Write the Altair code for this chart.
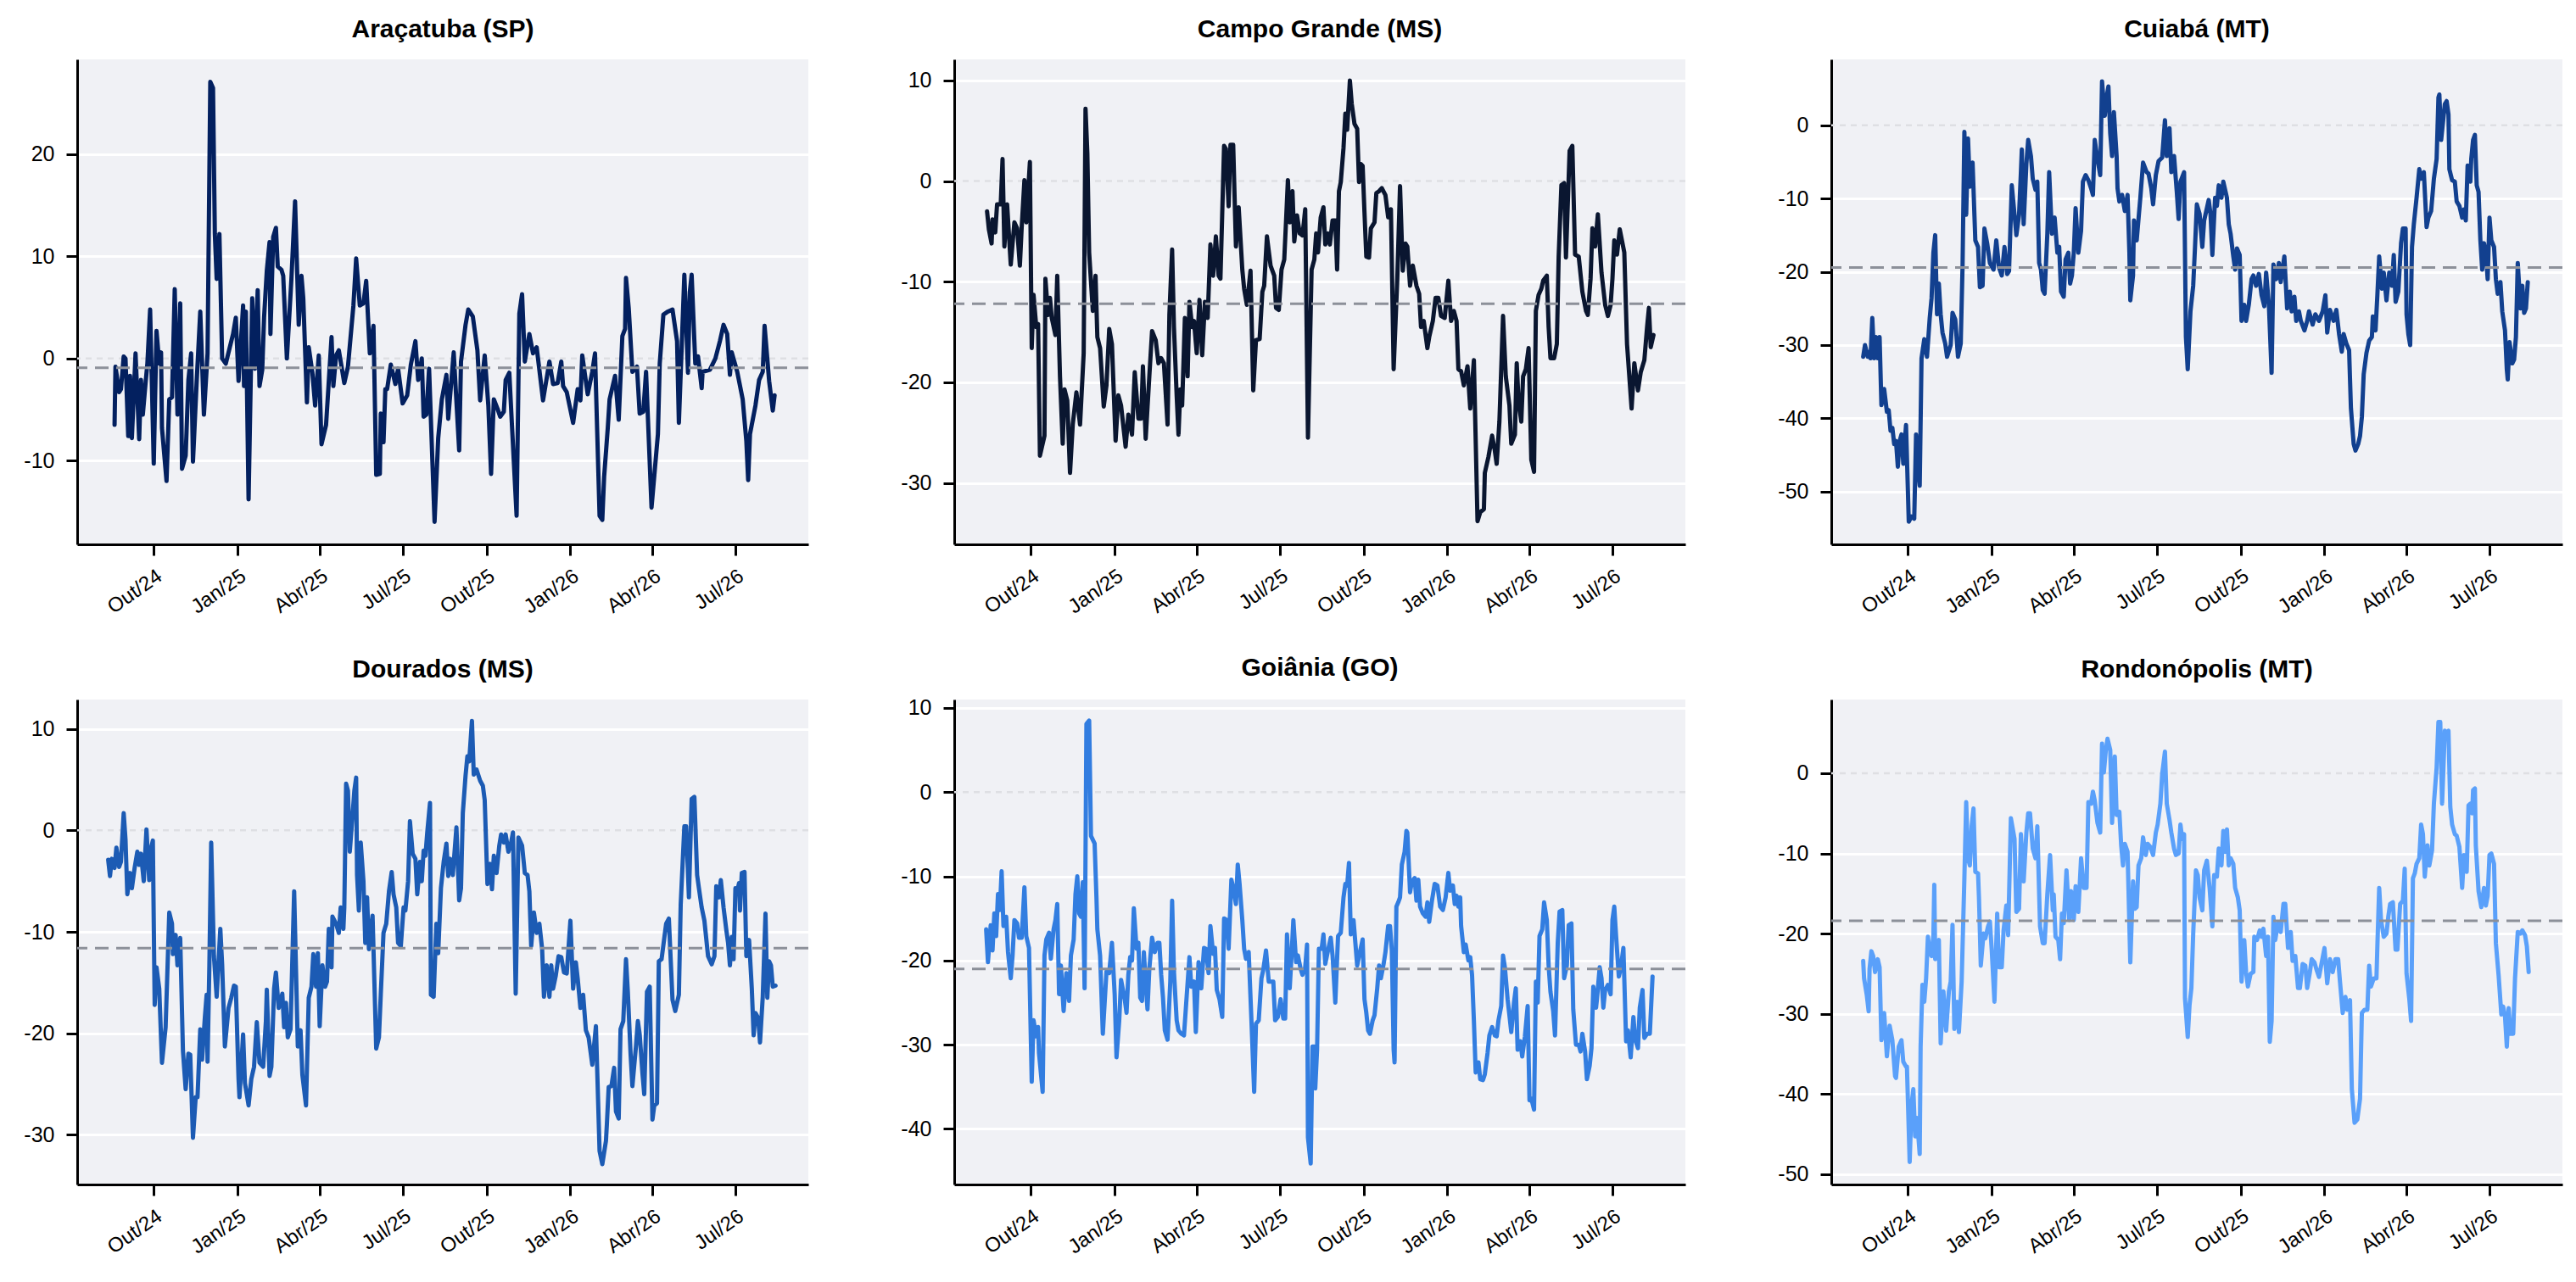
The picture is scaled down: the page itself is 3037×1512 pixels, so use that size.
import altair as alt
import pandas as pd

# ---------------- data ----------------
# each entry: (days since 2024-10-01, value)
ARACATUBA = [(-43,-6.5),(-42,-0.8),(-38,-3.3),(-36,-3.0),(-33,0.2),(-31,0.0),(-28,-7.6),(-26,-1.7),(-24,-7.8),(-20,0.5),(-16,-7.9),(-14,-2.1),(-12,-5.5),(-9,-2.4),(-7,-0.5),(-4,4.8),(0,-10.3),(3,2.7),(6,-0.5),(8,0.6),(9,-6.8),(14,-12.0),(17,-4.0),(20,-3.8),(23,6.8),(26,-5.5),(29,5.4),(31,-10.8),(35,-9.5),(38,-2.1),(41,0.5),(43,-10.1),(47,-2.4),(51,4.6),(55,-5.5),(59,0.5),(62,27.1),(65,26.5),(67,12.2),(69,7.8),(72,12.2),(75,0.0),(79,-0.5),(87,2.4),(90,4.0),(93,-2.2),(98,5.2),(99,-2.7),(101,4.6),(104,-13.8),(108,5.9),(111,-1.0),(114,6.7),(116,-2.7),(119,-1.1),(121,4.0),(124,8.6),(127,11.4),(128,2.4),(131,11.9),(134,12.8),(136,9.0),(140,8.7),(142,8.1),(146,0.0),(151,7.8),(155,15.4),(159,3.3),(162,8.1),(164,5.9),(168,-4.3),(170,1.1),(174,-1.4),(177,-4.6),(181,0.3),(184,-8.4),(189,-6.5),(195,2.1),(197,-2.7),(200,0.3),(203,0.8),(209,-2.4),(213,-0.8),(219,5.2),(222,9.8),(226,5.2),(230,5.4),(233,7.6),(237,0.5),(241,3.2),(244,-11.4),(248,-11.3),(249,-5.4),(252,-8.2),(254,-3.0),(256,-3.0),(260,-0.6),(265,-2.5),(268,-1.0),(273,-4.4),(278,-3.6),(282,-0.6),(287,1.7),(290,-2.1),(294,0.0),(296,-5.7),(299,-5.5),(302,-1.0),(308,-16.0),(312,-7.8),(316,-4.0),(321,-1.6),(323,-5.9),(329,0.6),(335,-9.0),(337,-0.3),(342,3.3),(345,4.8),(350,4.1),(355,0.8),(358,-4.1),(363,0.3),(367,-4.6),(370,-11.3),(373,-4.0),(377,-4.9),(380,-5.7),(384,-5.2),(386,-2.1),(390,-1.4),(393,-6.7),(398,-15.4),(401,4.4),(404,6.3),(407,-0.3),(412,2.4),(416,0.5),(420,1.1),(427,-4.1),(434,-0.3),(438,-2.5),(443,-2.4),(447,-0.3),(449,-2.7),(453,-3.3),(460,-6.3),(465,-3.0),(468,-4.1),(470,0.3),(476,-3.5),(481,-1.3),(484,0.5),(489,-15.4),(492,-15.8),(494,-11.6),(498,-6.8),(500,-4.0),(506,-1.7),(510,-6.0),(514,2.2),(517,2.9),(518,7.9),(521,4.9),(525,-1.3),(530,-0.8),(533,-5.4),(537,-5.2),(540,-1.3),(546,-14.6),(553,-7.4),(555,-0.5),(559,4.3),(564,4.6),(569,4.8),(574,1.7),(576,-6.3),(582,8.2),(586,-1.4),(588,6.5),(590,8.2),(594,-0.5),(597,0.2),(601,-2.9),(602,-1.3),(610,-1.1),(616,0.0),(621,1.7),(625,3.3),(629,2.4),(632,-1.6),(634,0.6),(640,-1.3),(646,-4.0),(650,-8.1),(652,-11.9),(654,-7.4),(660,-4.6),(664,-2.1),(668,-1.3),(670,3.2),(675,-2.2),(679,-5.1),(681,-3.6)]

CAMPO_GRANDE = [(-48,-3.0),(-46,-4.8),(-43,-6.2),(-42,-3.8),(-39,-5.1),(-37,-2.3),(-33,-2.3),(-31,2.2),(-29,-6.5),(-26,-2.3),(-22,-8.3),(-18,-4.1),(-15,-4.7),(-12,-8.4),(-10,-4.6),(-7,0.1),(-5,-4.1),(-1,1.9),(1,-16.6),(3,-11.3),(6,-14.5),(8,-14.2),(10,-27.3),(15,-25.3),(16,-9.7),(19,-13.3),(21,-11.6),(23,-13.6),(27,-15.3),(29,-9.4),(32,-19.4),(35,-26.1),(37,-20.7),(40,-21.8),(43,-29.0),(46,-24.2),(50,-21.0),(54,-24.2),(58,-17.1),(60,7.2),(62,2.8),(64,-7.1),(68,-12.9),(71,-9.4),(73,-15.5),(76,-16.6),(80,-22.4),(83,-20.3),(86,-14.7),(89,-16.2),(93,-25.8),(96,-21.3),(99,-22.3),(104,-26.4),(107,-23.2),(111,-25.2),(114,-19.0),(118,-23.6),(121,-23.6),(123,-18.4),(126,-25.6),(130,-19.4),(133,-14.9),(137,-15.8),(140,-18.1),(143,-17.6),(146,-18.1),(150,-24.2),(152,-13.3),(155,-6.8),(157,-14.5),(160,-21.3),(162,-25.2),(164,-20.7),(166,-22.3),(169,-13.6),(172,-19.4),(174,-12.0),(177,-14.5),(179,-13.9),(182,-17.1),(185,-11.8),(188,-17.3),(191,-12.0),(194,-13.6),(197,-6.3),(200,-9.4),(203,-5.5),(206,-9.4),(208,-9.7),(212,3.5),(214,3.2),(217,-2.5),(219,3.6),(222,3.6),(225,-6.5),(228,-2.6),(232,-8.8),(234,-10.7),(237,-12.3),(241,-8.9),(244,-20.8),(247,-15.8),(251,-15.7),(254,-11.0),(256,-10.4),(259,-5.5),(263,-8.4),(267,-9.4),(269,-12.6),(272,-12.8),(275,-8.8),(278,-7.8),(280,-3.9),(282,0.1),(284,-4.1),(287,-1.0),(289,-6.0),(292,-3.4),(295,-5.2),(298,-5.4),(301,-2.8),(304,-25.5),(308,-8.8),(311,-7.8),(313,-5.2),(315,-7.1),(318,-3.6),(321,-2.6),(323,-6.3),(326,-5.2),(328,-6.3),(331,-3.9),(334,-3.9),(336,-8.8),(338,-1.0),(340,-0.1),(343,3.3),(345,6.7),(347,5.1),(350,10.0),(352,7.7),(355,5.7),(358,5.2),(360,-0.1),(362,1.7),(364,1.5),(366,-3.1),(368,-7.5),(371,-7.6),(373,-4.7),(377,-4.1),(379,-1.2),(382,-1.0),(385,-0.7),(389,-1.4),(392,-3.6),(395,-2.8),(398,-18.7),(402,-9.7),(405,-0.5),(408,-8.9),(411,-6.2),(413,-6.5),(416,-10.4),(419,-8.4),(423,-10.4),(426,-11.2),(428,-14.5),(431,-13.9),(435,-16.6),(437,-15.5),(441,-13.9),(444,-11.6),(447,-11.6),(450,-13.4),(454,-13.6),(458,-9.9),(461,-13.9),(464,-12.9),(467,-13.9),(469,-18.7),(472,-18.9),(475,-20.3),(479,-18.4),(482,-22.6),(486,-17.8),(490,-33.8),(493,-32.9),(497,-32.6),(498,-29.0),(502,-27.4),(506,-25.3),(509,-26.8),(511,-28.1),(514,-23.9),(518,-13.4),(521,-19.4),(525,-22.3),(527,-26.1),(531,-25.2),(533,-18.1),(535,-21.9),(538,-23.9),(540,-19.4),(543,-18.7),(546,-16.6),(549,-27.7),(552,-28.9),(554,-12.9),(557,-11.3),(560,-10.7),(562,-9.9),(566,-9.4),(568,-14.5),(570,-17.6),(574,-17.6),(577,-16.2),(579,-7.5),(582,-0.4),(585,-0.2),(587,-7.6),(591,3.0),(594,3.5),(597,-7.3),(601,-7.5),(605,-11.0),(609,-12.9),(611,-13.3),(614,-9.7),(616,-4.7),(619,-6.5),(622,-3.3),(626,-9.1),(630,-12.3),(633,-13.4),(636,-12.3),(638,-9.7),(640,-5.9),(643,-7.3),(646,-4.8),(651,-7.1),(654,-16.2),(659,-22.6),(662,-18.1),(666,-20.8),(669,-19.0),(673,-17.8),(676,-14.5),(678,-12.6),(680,-16.5),(683,-15.3)]

CUIABA = [(-49,-31.6),(-47,-30.0),(-44,-31.6),(-42,-30.9),(-41,-31.8),(-39,-26.3),(-37,-31.8),(-35,-28.9),(-33,-31.8),(-31,-28.9),(-29,-38.2),(-26,-36.0),(-23,-39.1),(-21,-38.9),(-19,-41.7),(-17,-41.3),(-15,-43.5),(-13,-43.1),(-11,-46.6),(-9,-43.1),(-7,-42.2),(-5,-46.2),(-2,-40.9),(1,-54.1),(4,-53.4),(7,-53.7),(9,-42.2),(11,-46.6),(13,-49.2),(15,-31.8),(18,-29.2),(21,-31.6),(24,-26.3),(26,-23.6),(28,-17.4),(30,-15.0),(32,-25.8),(34,-21.6),(36,-25.8),(38,-28.3),(41,-29.8),(43,-31.6),(47,-30.0),(49,-25.6),(52,-26.5),(55,-31.6),(58,-29.8),(60,-19.2),(62,-0.9),(64,-12.2),(66,-1.8),(68,-8.4),(71,-5.1),(72,-8.6),(74,-15.7),(77,-16.6),(79,-22.1),(82,-21.9),(84,-14.1),(87,-16.1),(90,-18.8),(94,-19.7),(97,-15.7),(100,-19.4),(103,-20.5),(106,-16.6),(109,-20.3),(111,-19.9),(114,-8.2),(117,-12.2),(119,-15.0),(122,-12.2),(124,-6.4),(125,-3.3),(127,-13.5),(130,-5.3),(132,-2.0),(135,-4.2),(137,-7.3),(140,-8.8),(142,-7.7),(144,-18.8),(146,-19.7),(148,-22.5),(150,-23.0),(153,-14.8),(155,-6.4),(158,-14.8),(161,-12.6),(164,-17.4),(166,-16.6),(168,-22.7),(171,-23.4),(173,-18.3),(176,-17.4),(178,-21.6),(180,-20.5),(182,-17.4),(184,-11.3),(187,-17.4),(190,-14.4),(192,-7.7),(195,-6.8),(198,-7.5),(201,-8.6),(203,-9.5),(205,-2.0),(208,-4.6),(211,-6.8),(213,6.0),(216,1.3),(218,3.8),(220,5.3),(222,-1.1),(224,-4.2),(226,1.8),(229,-4.2),(230,-8.6),(232,-10.4),(235,-9.5),(238,-11.7),(241,-9.5),(243,-17.4),(244,-23.9),(247,-20.5),(248,-13.0),(251,-15.7),(255,-9.9),(258,-5.1),(262,-6.4),(264,-6.6),(267,-8.6),(269,-10.8),(272,-6.8),(275,-4.9),(279,-4.4),(282,0.7),(284,-4.2),(287,-0.4),(289,-6.4),(292,-4.2),(295,-9.1),(297,-12.8),(299,-7.7),(303,-6.4),(305,-28.9),(307,-33.3),(310,-25.4),(313,-21.9),(315,-16.6),(317,-10.8),(320,-12.1),(323,-16.6),(325,-13.0),(330,-10.2),(332,-12.1),(334,-17.7),(337,-9.9),(339,-11.0),(341,-8.2),(344,-9.9),(346,-7.7),(350,-9.9),(352,-13.5),(354,-14.8),(357,-17.9),(359,-19.7),(361,-16.8),(364,-17.7),(366,-26.7),(369,-24.5),(371,-26.7),(374,-24.5),(377,-21.0),(379,-20.5),(382,-21.9),(385,-20.3),(388,-23.2),(391,-24.7),(393,-20.1),(396,-24.5),(399,-33.8),(401,-19.0),(404,-21.0),(407,-18.8),(409,-21.4),(413,-17.9),(416,-25.0),(419,-22.7),(421,-25.4),(424,-23.4),(426,-26.7),(429,-25.4),(431,-26.7),(435,-28.0),(438,-26.7),(440,-25.4),(444,-27.2),(447,-25.8),(451,-26.7),(455,-25.4),(458,-23.2),(460,-28.3),(463,-25.2),(467,-26.7),(470,-25.2),(473,-28.5),(476,-30.9),(478,-28.5),(481,-29.8),(484,-30.7),(486,-38.6),(489,-43.5),(491,-44.4),(494,-43.5),(496,-42.4),(498,-39.8),(500,-34.0),(503,-31.1),(506,-29.4),(509,-28.9),(510,-26.1),(513,-28.0),(515,-23.2),(517,-17.9),(520,-22.3),(522,-20.1),(525,-23.9),(528,-20.1),(531,-21.9),(533,-17.7),(535,-24.1),(538,-22.7),(541,-16.1),(543,-14.1),(546,-14.1),(547,-25.8),(549,-28.5),(551,-30.0),(553,-16.6),(555,-13.5),(558,-9.9),(561,-6.0),(563,-7.3),(566,-6.4),(569,-13.9),(571,-12.6),(574,-11.7),(577,-7.3),(580,-4.6),(582,3.8),(583,4.2),(585,-2.0),(589,2.9),(591,3.3),(593,1.5),(594,-6.0),(597,-7.5),(600,-7.7),(602,-10.4),(605,-11.0),(608,-12.6),(610,-11.5),(612,-13.0),(614,-5.5),(617,-7.7),(618,-4.6),(620,-2.0),(622,-1.3),(624,-8.2),(626,-9.1),(628,-15.7),(630,-19.7),(632,-16.1),(634,-17.4),(636,-21.0),(638,-12.6),(640,-15.7),(643,-16.6),(645,-21.0),(647,-23.0),(650,-21.4),(652,-25.4),(655,-28.0),(657,-33.3),(658,-34.7),(660,-29.6),(663,-32.5),(665,-32.0),(667,-28.9),(669,-18.8),(672,-25.0),(674,-21.9),(676,-25.6),(678,-25.0),(680,-21.4)]

DOURADOS = [(-50,-2.9),(-48,-4.5),(-46,-2.8),(-43,-3.7),(-41,-1.7),(-38,-3.6),(-36,-3.1),(-33,1.7),(-31,-0.9),(-29,-6.3),(-26,-4.2),(-24,-5.7),(-21,-3.7),(-18,-2.1),(-16,-3.4),(-14,-2.3),(-11,-5.0),(-8,0.1),(-5,-4.9),(-3,-1.8),(-1,-1.0),(1,-17.2),(3,-13.5),(6,-15.6),(9,-22.9),(13,-19.4),(17,-8.1),(20,-9.2),(21,-12.2),(24,-10.3),(26,-13.3),(29,-10.6),(32,-21.7),(35,-25.5),(38,-22.0),(40,-22.1),(43,-30.3),(46,-26.3),(48,-26.3),(51,-19.6),(53,-22.6),(56,-18.5),(58,-16.2),(59,-22.8),(61,-13.3),(63,-1.2),(66,-12.4),(69,-16.4),(73,-9.7),(75,-13.2),(78,-21.3),(82,-17.5),(85,-16.5),(88,-15.3),(90,-15.4),(93,-24.5),(94,-26.3),(98,-20.1),(100,-24.9),(104,-27.1),(107,-24.5),(110,-23.3),(113,-18.9),(116,-22.9),(120,-23.3),(123,-18.8),(124,-15.7),(127,-24.2),(129,-23.3),(132,-15.6),(134,-14.0),(137,-17.5),(141,-16.1),(143,-19.4),(145,-17.0),(147,-20.4),(150,-19.6),(154,-6.0),(158,-21.3),(161,-19.7),(163,-24.1),(167,-27.1),(170,-16.5),(173,-15.4),(175,-12.2),(178,-15.4),(180,-12.1),(182,-19.3),(185,-13.3),(188,-15.4),(190,-14.9),(192,-9.7),(195,-13.5),(196,-8.5),(200,-9.2),(203,-10.1),(205,-7.6),(208,-9.7),(209,-7.6),(211,4.6),(213,3.9),(215,-2.1),(218,1.4),(220,3.9),(222,5.2),(223,-4.4),(225,-7.9),(227,-1.2),(230,-5.0),(232,-11.1),(234,-6.6),(236,-11.7),(240,-8.4),(244,-21.5),(247,-20.4),(249,-16.2),(252,-10.1),(255,-9.2),(258,-6.0),(261,-4.1),(263,-6.3),(266,-7.6),(268,-11.1),(271,-11.4),(274,-7.6),(276,-7.9),(279,-5.0),(281,0.9),(284,-2.3),(287,-2.8),(289,-6.3),(292,-3.1),(294,-5.0),(296,-2.0),(298,-2.5),(300,-0.2),(303,2.7),(304,-16.2),(307,-16.4),(310,-9.2),(312,-12.1),(315,-5.7),(318,-3.1),(321,-1.3),(323,-4.5),(325,-2.8),(328,-4.4),(332,0.3),(335,-6.9),(337,-5.7),(339,1.7),(342,5.4),(344,7.3),(346,6.8),(349,10.8),(351,5.5),(354,6.0),(358,4.9),(361,4.4),(363,3.0),(366,-5.3),(369,-3.3),(371,-5.8),(373,-2.5),(376,-4.2),(379,-1.5),(381,-0.4),(384,-1.2),(386,-0.4),(389,-2.1),(392,-1.2),(394,-0.2),(397,-16.1),(400,-0.7),(404,-1.5),(407,-4.2),(410,-4.4),(412,-6.0),(414,-11.4),(417,-8.1),(420,-10.1),(423,-9.2),(426,-11.7),(428,-16.4),(431,-13.3),(434,-16.4),(436,-13.3),(438,-15.6),(441,-14.3),(444,-12.4),(447,-12.5),(450,-14.0),(453,-14.1),(457,-8.9),(460,-15.6),(463,-13.0),(465,-14.6),(468,-17.5),(471,-16.2),(474,-19.7),(477,-20.4),(481,-23.1),(485,-19.3),(489,-31.6),(492,-32.9),(496,-30.6),(497,-29.0),(499,-25.3),(502,-25.2),(505,-23.4),(507,-27.7),(510,-28.4),(512,-19.6),(515,-18.8),(518,-12.7),(520,-15.9),(523,-22.0),(525,-25.2),(529,-21.2),(531,-18.8),(533,-20.1),(536,-23.9),(538,-26.0),(541,-15.9),(544,-15.4),(547,-28.5),(549,-27.1),(552,-26.9),(554,-12.9),(557,-12.7),(559,-11.3),(562,-9.2),(565,-8.7),(569,-16.7),(572,-17.8),(576,-16.2),(578,-7.3),(582,0.4),(584,0.4),(587,-6.6),(590,3.1),(593,3.3),(596,-4.4),(598,-5.7),(601,-7.6),(604,-8.9),(608,-12.4),(612,-13.2),(615,-12.4),(617,-5.5),(620,-6.6),(622,-4.9),(625,-7.6),(628,-9.8),(630,-11.1),(632,-13.3),(634,-10.5),(636,-12.7),(638,-5.7),(640,-6.0),(642,-5.2),(643,-7.9),(645,-4.2),(648,-4.1),(650,-12.4),(653,-10.8),(656,-15.6),(658,-20.2),(660,-18.0),(663,-18.5),(665,-20.9),(668,-16.4),(671,-8.2),(673,-16.5),(675,-12.9),(677,-13.3),(679,-15.4),(682,-15.3)]

GOIANIA = [(-49,-16.3),(-47,-20.2),(-44,-15.8),(-42,-18.8),(-40,-14.4),(-38,-17.1),(-36,-12.1),(-34,-14.0),(-32,-9.4),(-30,-15.9),(-27,-14.8),(-25,-19.0),(-22,-22.1),(-20,-19.4),(-18,-15.2),(-15,-15.6),(-13,-17.3),(-10,-17.3),(-7,-11.3),(-5,-17.1),(-2,-18.5),(1,-34.4),(3,-27.1),(6,-29.0),(8,-27.9),(9,-31.0),(13,-35.6),(15,-19.4),(17,-17.5),(20,-16.7),(22,-19.8),(25,-16.3),(27,-15.2),(29,-13.3),(31,-24.0),(33,-20.6),(36,-26.0),(39,-21.5),(42,-24.8),(44,-19.4),(47,-17.5),(49,-12.1),(51,-10.0),(53,-14.4),(55,-14.8),(57,-10.7),(59,-23.3),(61,8.1),(64,8.5),(66,-5.2),(70,-6.1),(72,-12.5),(73,-16.3),(76,-19.4),(79,-28.7),(83,-21.3),(86,-21.5),(89,-17.9),(92,-24.0),(94,-31.5),(97,-27.1),(99,-22.3),(103,-24.6),(105,-26.2),(107,-21.7),(109,-19.6),(111,-20.0),(113,-13.8),(116,-18.6),(118,-17.9),(120,-24.4),(122,-24.8),(124,-19.0),(126,-22.5),(128,-25.8),(130,-21.0),(133,-17.3),(136,-19.0),(139,-17.9),(141,-17.9),(143,-21.7),(145,-24.4),(147,-28.3),(150,-29.4),(153,-22.5),(155,-12.9),(157,-21.3),(160,-27.1),(162,-28.3),(165,-28.7),(168,-28.9),(171,-24.2),(174,-19.6),(176,-23.1),(179,-22.5),(181,-28.5),(184,-20.2),(187,-23.3),(190,-18.5),(192,-18.6),(195,-21.5),(197,-15.9),(200,-19.2),(202,-18.5),(204,-23.5),(207,-24.6),(210,-26.7),(212,-15.0),(215,-15.2),(217,-18.6),(220,-10.4),(222,-11.3),(225,-13.3),(227,-8.6),(229,-10.9),(232,-15.2),(234,-18.6),(236,-19.8),(239,-19.0),(242,-27.1),(245,-35.6),(247,-27.5),(250,-27.1),(253,-22.1),(255,-21.1),(258,-18.8),(261,-22.5),(264,-22.5),(266,-22.5),(268,-27.1),(271,-26.7),(274,-24.6),(277,-26.9),(279,-26.9),(281,-16.9),(284,-23.3),(286,-19.4),(288,-15.2),(291,-20.2),(293,-19.4),(296,-21.0),(298,-21.7),(301,-20.8),(303,-18.1),(304,-41.0),(307,-44.1),(309,-30.2),(311,-30.2),(312,-35.2),(314,-30.6),(316,-18.6),(319,-18.6),(321,-16.9),(323,-20.4),(326,-18.8),(329,-17.3),(331,-19.4),(334,-25.0),(337,-17.1),(340,-16.7),(343,-12.5),(345,-10.9),(347,-11.1),(349,-8.4),(351,-16.9),(354,-15.2),(356,-17.9),(358,-20.6),(361,-19.0),(364,-17.5),(366,-24.6),(368,-26.2),(370,-28.3),(372,-28.7),(375,-27.1),(377,-26.5),(380,-23.3),(382,-20.6),(384,-22.1),(387,-20.4),(389,-19.0),(392,-15.9),(394,-15.9),(396,-18.8),(398,-30.6),(399,-32.1),(401,-13.6),(403,-13.1),(405,-12.5),(407,-8.6),(410,-7.1),(412,-4.6),(413,-4.8),(416,-11.9),(418,-10.6),(421,-10.2),(423,-12.9),(425,-10.4),(427,-13.6),(430,-14.4),(433,-14.8),(435,-13.1),(437,-15.4),(440,-12.9),(443,-10.9),(446,-11.1),(449,-13.6),(452,-14.0),(455,-12.5),(458,-9.6),(460,-11.7),(463,-11.1),(465,-13.3),(467,-12.3),(469,-13.6),(471,-12.5),(472,-15.9),(475,-19.0),(477,-18.1),(480,-20.0),(482,-19.6),(484,-21.7),(486,-27.1),(488,-33.3),(491,-32.1),(493,-34.1),(496,-34.2),(498,-33.5),(501,-31.0),(503,-28.9),(506,-27.9),(509,-28.9),(511,-29.0),(513,-27.1),(516,-25.4),(518,-19.4),(520,-20.8),(523,-24.6),(525,-26.5),(527,-28.5),(530,-25.0),(532,-23.3),(534,-30.6),(537,-29.6),(539,-31.4),(542,-29.0),(545,-25.4),(547,-36.6),(549,-36.4),(552,-37.7),(554,-22.5),(556,-25.0),(558,-17.1),(561,-16.3),(563,-13.1),(566,-15.2),(568,-20.6),(570,-23.7),(573,-26.0),(575,-28.9),(578,-17.9),(580,-14.2),(583,-14.0),(585,-22.1),(588,-20.6),(590,-15.8),(593,-15.6),(595,-25.8),(598,-30.0),(601,-30.0),(603,-30.8),(605,-28.7),(608,-30.8),(610,-34.1),(613,-32.5),(615,-30.4),(617,-23.1),(620,-25.6),(621,-24.6),(624,-20.8),(626,-22.1),(628,-25.6),(630,-23.5),(633,-22.9),(636,-24.0),(638,-15.2),(640,-13.6),(642,-17.1),(645,-21.9),(647,-21.0),(650,-18.5),(653,-29.6),(655,-28.3),(658,-31.5),(661,-26.7),(663,-29.4),(666,-30.4),(668,-25.6),(671,-23.5),(673,-29.2),(676,-28.7),(679,-28.7),(682,-21.9)]

RONDONOPOLIS = [(-49,-23.4),(-48,-25.6),(-45,-27.7),(-43,-29.7),(-42,-24.4),(-40,-22.2),(-38,-22.8),(-36,-24.8),(-33,-23.2),(-31,-24.2),(-29,-33.3),(-26,-29.9),(-23,-35.3),(-20,-31.5),(-17,-33.3),(-14,-37.8),(-13,-38.0),(-10,-34.1),(-7,-33.3),(-5,-36.0),(-2,-36.6),(-1,-36.6),(2,-48.5),(4,-41.4),(6,-39.4),(8,-45.3),(10,-43.0),(13,-47.5),(14,-34.1),(16,-26.4),(18,-28.5),(20,-25.6),(22,-20.4),(24,-22.4),(26,-22.8),(28,-20.2),(29,-13.9),(30,-23.2),(32,-21.6),(34,-20.8),(36,-33.7),(39,-27.2),(42,-32.1),(45,-27.2),(47,-26.0),(49,-18.9),(51,-31.9),(54,-28.5),(56,-32.3),(59,-26.0),(62,-13.1),(64,-3.6),(66,-10.6),(68,-11.5),(70,-6.6),(72,-4.4),(74,-12.3),(77,-12.5),(78,-15.5),(80,-24.0),(83,-20.0),(85,-20.6),(88,-19.1),(90,-18.5),(92,-22.0),(95,-28.5),(98,-17.5),(100,-24.2),(103,-24.2),(105,-19.6),(108,-16.5),(110,-20.2),(113,-5.6),(117,-8.2),(119,-17.3),(122,-16.9),(124,-7.6),(127,-13.5),(130,-7.4),(132,-5.0),(134,-5.0),(137,-9.4),(140,-10.6),(142,-6.6),(145,-19.1),(148,-21.2),(150,-21.2),(153,-15.1),(156,-10.2),(159,-17.1),(160,-15.1),(162,-20.4),(165,-20.8),(167,-23.2),(169,-17.5),(171,-18.7),(174,-12.1),(177,-18.3),(179,-14.7),(182,-18.3),(184,-14.1),(187,-17.3),(190,-10.6),(193,-14.3),(196,-14.3),(198,-3.6),(201,-3.8),(203,-2.3),(205,-3.4),(208,-6.2),(211,-7.4),(213,3.7),(215,0.1),(217,2.7),(219,4.3),(222,2.9),(224,-6.2),(227,2.1),(229,-5.2),(232,-4.8),(234,-9.0),(236,-11.5),(238,-8.8),(241,-9.8),(244,-23.6),(247,-13.5),(249,-16.9),(251,-16.7),(253,-11.5),(256,-10.6),(258,-8.0),(261,-10.2),(263,-8.8),(266,-9.2),(269,-10.2),(272,-7.4),(274,-6.4),(277,-3.8),(279,-0.1),(282,2.7),(284,-3.8),(287,-5.8),(289,-7.4),(292,-9.4),(294,-10.2),(297,-10.0),(299,-6.4),(301,-8.2),(303,-7.6),(304,-28.1),(307,-32.9),(309,-28.9),(311,-26.8),(313,-20.0),(316,-12.1),(318,-12.7),(320,-15.5),(323,-17.1),(325,-12.1),(328,-10.9),(331,-14.3),(334,-19.1),(336,-12.7),(339,-12.9),(341,-9.4),(344,-11.5),(346,-7.2),(348,-9.8),(350,-7.0),(352,-11.5),(354,-10.6),(357,-11.3),(359,-14.3),(362,-15.5),(364,-17.1),(366,-26.0),(369,-20.8),(371,-24.8),(373,-26.6),(376,-25.0),(379,-24.8),(380,-20.4),(383,-20.8),(386,-19.6),(388,-20.4),(390,-19.4),(393,-22.8),(395,-20.4),(397,-33.5),(399,-30.9),(401,-17.9),(403,-20.8),(406,-18.7),(409,-19.8),(412,-16.3),(414,-16.3),(417,-21.8),(420,-19.8),(422,-23.4),(425,-22.8),(428,-26.8),(430,-26.8),(433,-23.8),(436,-24.0),(438,-26.8),(441,-24.8),(443,-23.2),(446,-23.6),(448,-24.4),(451,-25.4),(454,-23.6),(457,-21.8),(460,-26.2),(463,-23.2),(466,-24.8),(469,-23.2),(472,-23.2),(474,-26.0),(477,-29.9),(480,-27.9),(482,-29.5),(485,-28.3),(487,-39.4),(490,-43.6),(493,-43.2),(496,-40.6),(498,-29.9),(501,-29.5),(504,-29.5),(506,-24.0),(508,-26.6),(511,-25.6),(514,-25.6),(515,-21.6),(517,-14.3),(519,-18.3),(522,-20.4),(525,-20.0),(527,-17.9),(529,-16.3),(532,-16.1),(535,-22.0),(537,-22.0),(540,-16.3),(543,-15.9),(545,-11.9),(547,-25.0),(550,-28.1),(552,-30.9),(554,-13.1),(556,-12.5),(558,-11.3),(561,-10.6),(563,-6.4),(565,-7.6),(567,-12.9),(570,-9.0),(572,-11.5),(575,-9.6),(577,-3.8),(580,0.7),(582,6.4),(584,6.4),(586,-3.8),(589,5.3),(591,5.1),(593,5.3),(595,-4.2),(597,-6.4),(600,-7.6),(602,-7.8),(605,-9.2),(608,-14.3),(610,-10.2),(613,-12.3),(615,-4.0),(617,-3.8),(619,-5.0),(620,-2.1),(622,-1.9),(623,-9.0),(626,-14.7),(629,-16.7),(632,-14.3),(634,-16.5),(636,-15.3),(638,-10.2),(640,-10.0),(643,-11.3),(645,-21.2),(648,-25.2),(651,-30.1),(653,-29.1),(655,-30.3),(657,-34.1),(659,-29.3),(661,-32.5),(664,-32.5),(666,-25.6),(669,-19.8),(672,-20.0),(674,-19.6),(677,-20.2),(679,-21.6),(681,-24.8)]

SERIES = [ARACATUBA, CAMPO_GRANDE, CUIABA, DOURADOS, GOIANIA, RONDONOPOLIS]
TITLES = ["Araçatuba (SP)", "Campo Grande (MS)", "Cuiabá (MT)",
          "Dourados (MS)", "Goiânia (GO)", "Rondonópolis (MT)"]
COLORS = ["#03205f", "#0a1630", "#12408f", "#1c5bb4", "#327de0", "#5aa0fa"]
MEANS = [-0.9, -12.2, -19.4, -11.6, -21.0, -18.4]
Y_DOMAINS = [[-18.2, 29.3], [-36.1, 12.1], [-57.2, 9.0],
             [-34.9, 12.9], [-46.6, 11.0], [-51.3, 9.2]]
Y_TICKS = [[-10, 0, 10, 20], [-30, -20, -10, 0, 10], [-50, -40, -30, -20, -10, 0],
           [-30, -20, -10, 0, 10], [-40, -30, -20, -10, 0, 10], [-50, -40, -30, -20, -10, 0]]
X_TICKS = [(2024, 10), (2025, 1), (2025, 4), (2025, 7), (2025, 10), (2026, 1), (2026, 4), (2026, 7)]
X_DOMAIN = [(2024, 7, 9), (2026, 9, 19)]
START = pd.Timestamp("2024-10-01")

FONT = "Liberation Sans"
BG = "#f0f1f5"

MONTH_EXPR = ("['Jan','Fev','Mar','Abr','Mai','Jun','Jul','Ago','Set','Out','Nov','Dez']"
              "[month(datum.value)] + '/' + timeFormat(datum.value, '%y')")


def panel(i):
    pts = SERIES[i]
    df = pd.DataFrame({
        "date": START + pd.to_timedelta([p[0] for p in pts], unit="D"),
        "value": [p[1] for p in pts],
    })
    xscale = alt.Scale(domain=[alt.DateTime(year=y, month=m, date=d) for (y, m, d) in X_DOMAIN])
    xaxis = alt.Axis(
        values=[alt.DateTime(year=y, month=m, date=1) for (y, m) in X_TICKS],
        labelExpr=MONTH_EXPR, labelAngle=325, labelAlign="right", labelBaseline="top",
        labelFontSize=24, labelFont=FONT, labelColor="black", labelPadding=12,
        grid=False, domainColor="black", domainWidth=3, tickColor="black",
        tickWidth=3, tickSize=13, minExtent=90, maxExtent=90, title=None,
    )
    yscale = alt.Scale(domain=Y_DOMAINS[i], nice=False, zero=False)
    yaxis = alt.Axis(
        values=Y_TICKS[i], labelExpr="toString(datum.value)",
        grid=True, gridWidth=3,
        gridColor={"condition": {"test": "datum.value === 0", "value": "transparent"},
                   "value": "#ffffff"},
        labelFontSize=25, labelFont=FONT, labelColor="black", labelPadding=14,
        domainColor="black", domainWidth=3, tickColor="black", tickWidth=3,
        tickSize=13, minExtent=70, maxExtent=70, title=None,
    )
    x = alt.X("date:T", scale=xscale, axis=xaxis, title=None)
    y = alt.Y("value:Q", scale=yscale, axis=yaxis, title=None)

    zero = alt.Chart(pd.DataFrame({"value": [0.0]})).mark_rule(
        color="#dedfe3", strokeWidth=2.5, strokeDash=[7, 6]
    ).encode(y=y)
    line = alt.Chart(df).mark_line(
        color=COLORS[i], strokeWidth=5, strokeJoin="round", strokeCap="round", clip=True
    ).encode(x=x, y=y)
    mean = alt.Chart(pd.DataFrame({"value": [MEANS[i]]})).mark_rule(
        color="#8c9099", strokeWidth=3, strokeDash=[16, 9]
    ).encode(y=y)

    return alt.layer(zero, line, mean).properties(
        width=862, height=572,
        title=alt.TitleParams(TITLES[i], fontSize=30, fontWeight="bold", font=FONT,
                              color="black", anchor="middle", offset=20),
    )


row1 = alt.hconcat(panel(0), panel(1), panel(2), spacing=100)
row2 = alt.hconcat(panel(3), panel(4), panel(5), spacing=100)
chart = alt.vconcat(row1, row2, spacing=40).properties(
    padding={"left": 13, "top": 12, "right": 5, "bottom": 5},
    background="white",
).configure_view(fill=BG, strokeWidth=0)

chart.save("out.html", embed_options={"renderer": "svg", "actions": False})
